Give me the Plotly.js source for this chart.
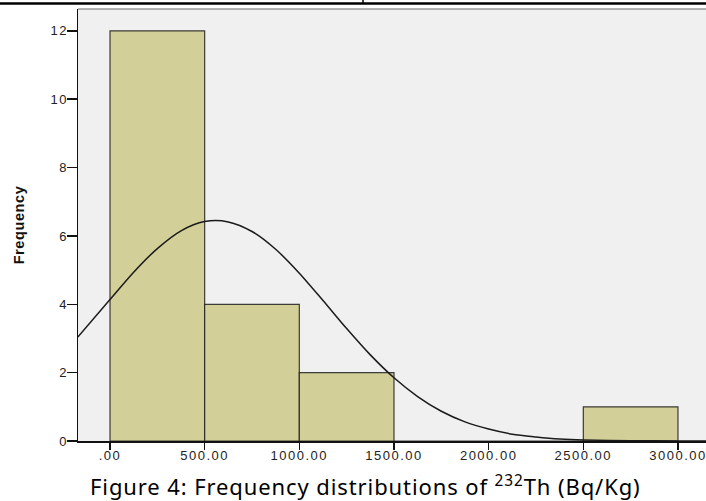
<!DOCTYPE html>
<html>
<head>
<meta charset="utf-8">
<script src="https://cdn.plot.ly/plotly-3.0.1.min.js"></script>
<style>
  html, body { margin: 0; padding: 0; background: #fff; }
  #chart { width: 706px; height: 501px; }
  .xtick text, .ytick text { letter-spacing: 1.5px; }
  .ytitle { letter-spacing: 0.6px; }
  .annotation-text { letter-spacing: 0.9px; }
</style>
</head>
<body>
<div id="chart"></div>
<script>
// Histogram bins (Bq/Kg) and frequencies
const binStarts = [0, 500, 1000, 1500, 2000, 2500];
const binWidth = 500;
const counts = [12, 4, 2, 0, 0, 1];

// Normal curve overlay
const curveX = [-170, 0, 125, 250, 375, 500, 625, 750, 875, 1000, 1125, 1250, 1375, 1500, 1625, 1750, 1875, 2000, 2125, 2250, 2375, 2500, 2750, 3000, 3150];
const curveY = [3.04, 4.14, 4.94, 5.63, 6.15, 6.42, 6.41, 6.13, 5.61, 4.91, 4.11, 3.29, 2.52, 1.85, 1.30, 0.87, 0.56, 0.35, 0.20, 0.12, 0.06, 0.03, 0.01, 0.0, 0.0];

// Axis ticks
const xTickVals = [0, 500, 1000, 1500, 2000, 2500, 3000];
const xTickText = ['.00', '500.00', '1000.00', '1500.00', '2000.00', '2500.00', '3000.00'];
const yTickVals = [0, 2, 4, 6, 8, 10, 12];

const caption = 'Figure 4: Frequency distributions of <sup>232</sup>Th (Bq/Kg)';

const barX = binStarts.map(s => s + binWidth / 2);

const traces = [
  {
    type: 'bar',
    x: barX,
    y: counts,
    width: binStarts.map(() => binWidth),
    marker: { color: '#d3cf98', line: { color: 'rgba(30,30,30,0.85)', width: 1.2 } },
    hoverinfo: 'x+y'
  },
  {
    type: 'scatter',
    mode: 'lines',
    x: curveX,
    y: curveY,
    line: { color: '#1a1a1a', width: 1.5, shape: 'spline', smoothing: 0.8 },
    hoverinfo: 'skip'
  }
];

const tickFont = { family: 'Arial, Liberation Sans, sans-serif', size: 13, color: '#222' };

const layout = {
  width: 706,
  height: 501,
  margin: { l: 78, r: 0, t: 9, b: 60 },
  paper_bgcolor: '#ffffff',
  plot_bgcolor: '#f0f0f0',
  showlegend: false,
  bargap: 0,
  xaxis: {
    range: [-169, 3148],
    tickvals: xTickVals,
    ticktext: xTickText,
    ticks: 'outside',
    ticklen: 7,
    tickwidth: 1.5,
    tickcolor: '#111',
    showline: true,
    linecolor: '#111',
    linewidth: 1.5,
    showgrid: false,
    zeroline: false,
    tickfont: tickFont,
    ticklabeloverflow: 'allow',
    ticklabelstandoff: -5
  },
  yaxis: {
    range: [0, 12.64],
    tickvals: yTickVals,
    ticks: 'outside',
    ticklen: 10,
    tickwidth: 1.5,
    tickcolor: '#111',
    showline: true,
    linecolor: '#111',
    linewidth: 1.5,
    showgrid: false,
    zeroline: false,
    tickfont: tickFont,
    ticklabelstandoff: -4,
    title: { text: 'Frequency', font: { family: 'Arial, Liberation Sans, sans-serif', size: 14.5, color: '#111', weight: 'bold' }, standoff: 22 }
  },
  shapes: [
    { type: 'line', xref: 'paper', yref: 'paper', x0: 0, x1: 1, y0: 1, y1: 1, line: { color: '#9a9a9a', width: 1.5 } },
    { type: 'line', xref: 'paper', yref: 'paper', x0: -0.13, x1: 1.01, y0: 1.0127, y1: 1.0127, line: { color: '#000', width: 2.5 } },
    { type: 'line', xref: 'paper', yref: 'paper', x0: 0.4538, x1: 0.4538, y0: 1.0127, y1: 1.03, line: { color: '#000', width: 1.5 } }
  ],
  annotations: [
    {
      xref: 'paper', yref: 'paper', x: 0.4572, y: -0.104,
      xanchor: 'center', yanchor: 'middle', showarrow: false,
      text: caption,
      font: { family: 'Noto Sans, Open Sans, sans-serif', size: 22, color: '#000' }
    }
  ]
};

Plotly.newPlot('chart', traces, layout, { displayModeBar: false, staticPlot: true });
</script>
</body>
</html>
